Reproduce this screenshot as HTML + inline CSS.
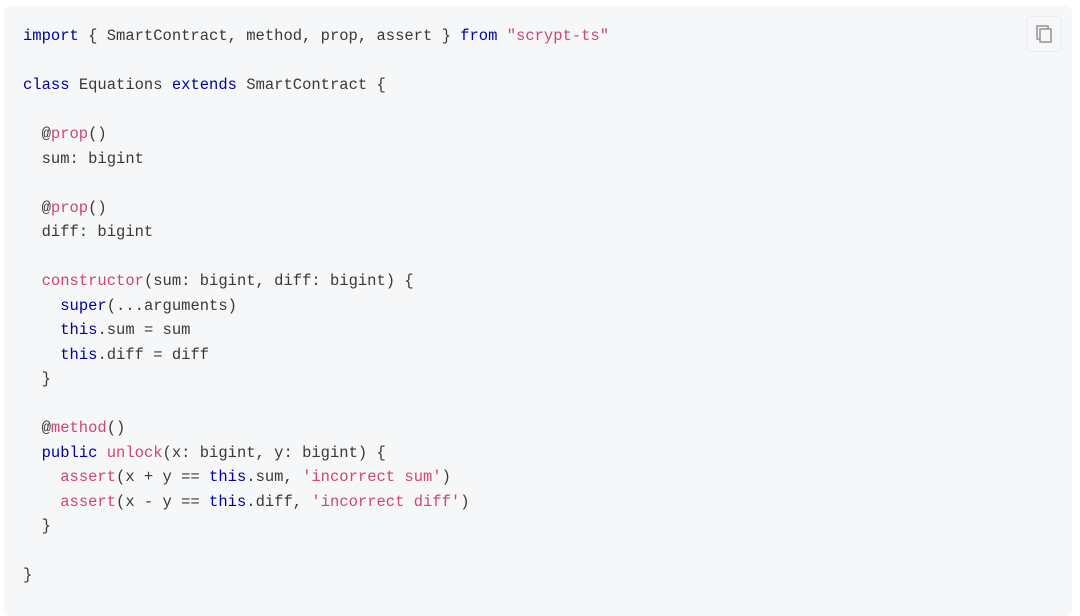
<!DOCTYPE html>
<html><head><meta charset="utf-8"><style>
html,body{margin:0;padding:0;background:#fff;width:1080px;height:602px;overflow:hidden}
.panel{position:absolute;left:4px;top:6px;width:1068px;height:610px;background:#f6f7f8;border-radius:6px}
pre{position:absolute;left:23px;top:24px;margin:0;font-family:"Liberation Mono",monospace;font-size:15.5px;line-height:24.5px;color:#393a34}
.k{color:#00009f}.s{color:#d0466d}.f{color:#d0466d}
.copy{position:absolute;left:1026px;top:16px;width:34px;height:34px;border:1px solid #ebedf0;border-radius:6px;background:#f6f7f8}
</style></head><body>
<div class="panel"></div>
<div class="copy"><svg width="34" height="34" viewBox="0 0 34 34"><rect x="10" y="9" width="11" height="13" fill="none" stroke="#9a9a9a" stroke-width="1.6"/><rect x="13" y="12" width="11" height="13" fill="#f6f7f8" stroke="#9a9a9a" stroke-width="1.6"/></svg></div>
<pre><span class="k">import</span> { SmartContract, method, prop, assert } <span class="k">from</span> <span class="s">"scrypt-ts"</span>

<span class="k">class</span> Equations <span class="k">extends</span> SmartContract {

  @<span class="f">prop</span>()
  sum: bigint

  @<span class="f">prop</span>()
  diff: bigint

  <span class="f">constructor</span>(sum: bigint, diff: bigint) {
    <span class="k">super</span>(...arguments)
    <span class="k">this</span>.sum = sum
    <span class="k">this</span>.diff = diff
  }

  @<span class="f">method</span>()
  <span class="k">public</span> <span class="f">unlock</span>(x: bigint, y: bigint) {
    <span class="f">assert</span>(x + y == <span class="k">this</span>.sum, <span class="s">'incorrect sum'</span>)
    <span class="f">assert</span>(x - y == <span class="k">this</span>.diff, <span class="s">'incorrect diff'</span>)
  }

}</pre>
</body></html>
